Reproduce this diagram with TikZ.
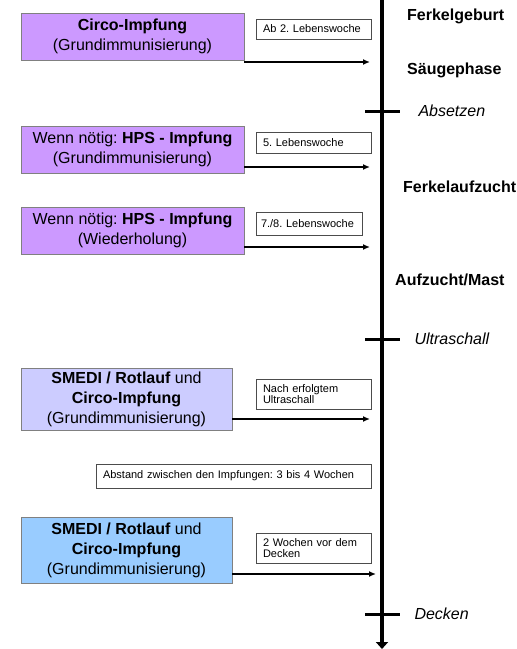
\documentclass[tikz,border=0pt]{standalone}
\usepackage{fontspec}
\setmainfont{Liberation Sans}
\usetikzlibrary{arrows.meta}
\definecolor{lila}{HTML}{CC99FF}
\definecolor{hellblau}{HTML}{CCCCFF}
\definecolor{himmel}{HTML}{99CCFF}
\frenchspacing
\begin{document}
\begin{tikzpicture}[x=1pt,y=-1pt,
	box/.style={draw=black!50, line width=0.8pt, align=center, inner sep=0pt,
		minimum width=223pt, minimum height=47pt, font=\fontsize{16}{20}\selectfont},
	note/.style={draw=black!70, line width=0.8pt, align=left, inner xsep=7pt, inner ysep=0pt,
		text width=101pt, font=\fontsize{11}{11}\selectfont},
	phase/.style={anchor=west, inner sep=0pt, font=\fontsize{16}{19}\selectfont\bfseries},
	event/.style={anchor=west, inner sep=0pt, font=\fontsize{16}{19}\selectfont\itshape},
	arr/.style={-{Latex[length=7pt,width=6pt]}, line width=1.4pt}]
	\useasboundingbox (0,0) rectangle (517,649);
	% Zeitachse
	\coordinate (T) at (382,0);
	\coordinate (E) at (382,649);
	\draw[line width=4pt,-{Triangle[length=7pt,width=12pt]}] (T)--(E);
	\foreach \y/\x/\l in {111/417/Absetzen,339/413/Ultraschall,614/413/Decken}
		\draw[line width=3pt] (365,\y)--(400,\y) node[event] (\l) at (\x,\y) {\l};
	\node[phase] (F1) at (407,16) {Ferkelgeburt};
	\node[phase] (F2) at (407,70) {Säugephase};
	\node[phase] (F3) at (403,187) {Ferkelaufzucht};
	\node[phase] (F4) at (395,280) {Aufzucht/Mast};
	% Impfungen
	\node[box,fill=lila] (C1) at (132.5,36.5) {\textbf{Circo-Impfung}\\(Grundimmunisierung)};
	\node[box,fill=lila] (H1) at (132.5,149.5) {Wenn nötig: \textbf{HPS - Impfung}\\(Grundimmunisierung)};
	\node[box,fill=lila] (H2) at (132.5,230.5) {Wenn nötig: \textbf{HPS - Impfung}\\(Wiederholung)};
	\node[box,fill=hellblau,minimum width=211pt,minimum height=62pt] (S1) at (126.5,399)
		{\textbf{SMEDI / Rotlauf} und\\\textbf{Circo-Impfung}\\(Grundimmunisierung)};
	\node[box,fill=himmel,minimum width=211pt,minimum height=66pt] (S2) at (126.5,550)
		{\textbf{SMEDI / Rotlauf} und\\\textbf{Circo-Impfung}\\(Grundimmunisierung)};
	% Zeitpunkte
	\node[note,minimum height=20pt] (N1) at (313.5,29) {Ab 2. Lebenswoche};
	\node[note,minimum height=21pt] (N2) at (313.5,142.5) {5. Lebenswoche};
	\node[note,minimum height=23pt,inner xsep=5pt,text width=96pt] (N3) at (309,223.5) {7./8. Lebenswoche};
	\node[note,minimum height=30pt] (N4) at (313.5,394) {Nach erfolgtem\\Ultraschall};
	\node[note,minimum height=24pt,text width=261pt] (N5) at (233.5,476) {Abstand zwischen den Impfungen: 3 bis 4 Wochen};
	\node[note,minimum height=30pt] (N6) at (313.5,548) {2 Wochen vor dem\\Decken};
	% Pfeile zur Achse
	\coordinate (a1) at (370,62);
	\coordinate (a2) at (370,167);
	\coordinate (a3) at (370,247);
	\coordinate (a4) at (370,419);
	\coordinate (a5) at (376,574);
	\draw[arr] (C1.east |- a1)--(a1);
	\draw[arr] (H1.east |- a2)--(a2);
	\draw[arr] (H2.east |- a3)--(a3);
	\draw[arr] (S1.east |- a4)--(a4);
	\draw[arr] (S2.east |- a5)--(a5);
\end{tikzpicture}
\end{document}
